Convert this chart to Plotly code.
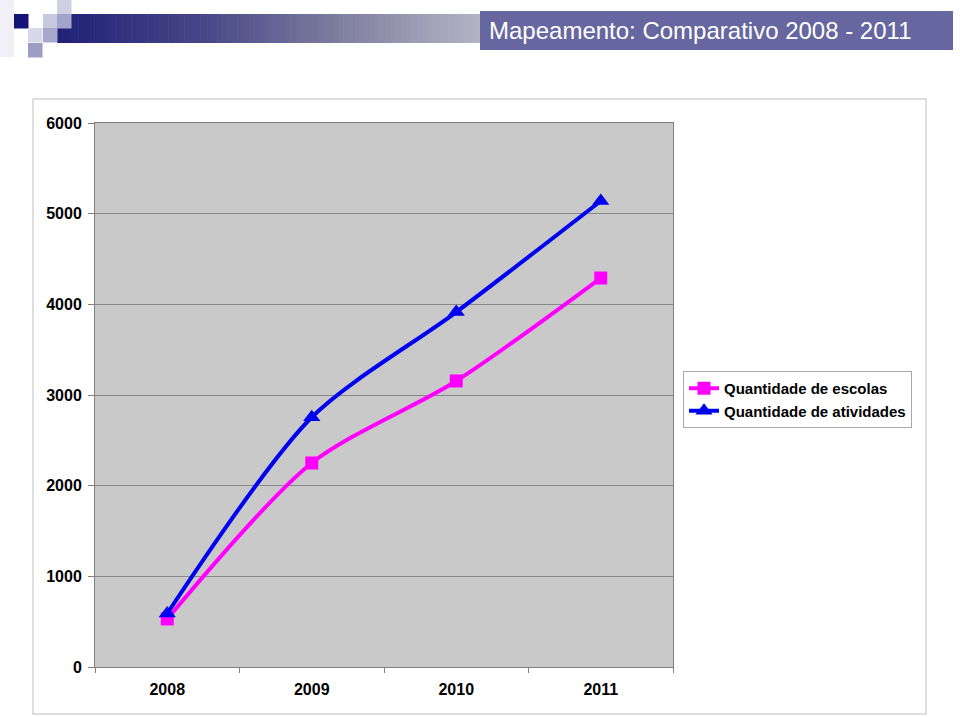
import plotly.graph_objects as go

years = ["2008", "2009", "2010", "2011"]
escolas = [530, 2250, 3155, 4290]
atividades = [590, 2755, 3915, 5140]
y_ticks = [0, 1000, 2000, 3000, 4000, 5000, 6000]

W, H = 960, 717
L, R, T, B = 95, 673, 123, 667  # plot area in pixels
PW, PH = R - L, B - T

def px(x):
    return (x - L) / PW

def py(y):
    return (B - y) / PH

FONT = "Arial, Liberation Sans, sans-serif"

fig = go.Figure()
fig.add_trace(go.Scatter(
    x=years, y=escolas, name="Quantidade de escolas", mode="lines+markers",
    line=dict(color="#FF00FF", width=4, shape="spline", smoothing=0.8),
    marker=dict(symbol="square", size=13, color="#FF00FF"),
))
fig.add_trace(go.Scatter(
    x=years, y=atividades, name="Quantidade de atividades", mode="lines+markers",
    line=dict(color="#0000F0", width=4, shape="spline", smoothing=0.8),
    marker=dict(symbol="triangle-up", size=15, color="#0000F0"),
))

shapes = []
# chart frame
shapes.append(dict(type="rect", xref="paper", yref="paper",
                   x0=px(33), x1=px(926), y0=py(714), y1=py(99),
                   line=dict(color="#D4D4D4", width=1.5), fillcolor="rgba(0,0,0,0)", layer="below"))

# header gradient bar
def lerp(c1, c2, t):
    return "#%02x%02x%02x" % tuple(int(round(a + (b - a) * t)) for a, b in zip(c1, c2))

stops = [(0.0, (0x20, 0x20, 0x78)), (0.35, (0x48, 0x48, 0x88)), (0.7, (0x84, 0x84, 0xA2)), (1.0, (0xB4, 0xB4, 0xC6))]
x0g, x1g = 57, 481
n = 80
for i in range(n):
    t = (i + 0.5) / n
    for j in range(len(stops) - 1):
        if stops[j][0] <= t <= stops[j + 1][0]:
            tt = (t - stops[j][0]) / (stops[j + 1][0] - stops[j][0])
            col = lerp(stops[j][1], stops[j + 1][1], tt)
            break
    xa = x0g + (x1g - x0g) * i / n
    xb = x0g + (x1g - x0g) * (i + 1) / n + 0.6
    shapes.append(dict(type="rect", xref="paper", yref="paper",
                       x0=px(xa), x1=px(xb), y0=py(43), y1=py(14),
                       line=dict(width=0), fillcolor=col))

# decorative squares
squares = [
    (14, 14, "#141478"),
    (43, 14, "#C8C8E0"),
    (57, 0, "#D0D0E4"),
    (57, 14, "#A4A4C8"),
    (28, 28, "#D8D8EA"),
    (43, 28, "#A8A8CC"),
    (28, 43, "#9C9CC4"),
]
for (sx, sy, c) in squares:
    shapes.append(dict(type="rect", xref="paper", yref="paper",
                       x0=px(sx), x1=px(sx + 14.5), y0=py(sy + 14.5), y1=py(sy),
                       line=dict(width=0), fillcolor=c))
# faint left corner
shapes.append(dict(type="rect", xref="paper", yref="paper",
                   x0=px(0), x1=px(14), y0=py(57), y1=py(0),
                   line=dict(width=0), fillcolor="#F0F0F6"))
# title box
shapes.append(dict(type="rect", xref="paper", yref="paper",
                   x0=px(480), x1=px(953), y0=py(50), y1=py(11),
                   line=dict(width=0), fillcolor="#6666A0"))

annotations = [dict(
    text="Mapeamento: Comparativo 2008 - 2011", xref="paper", yref="paper",
    x=px(487), y=py(31), xanchor="left", yanchor="middle", showarrow=False,
    font=dict(family=FONT, size=24, color="white"),
)]

fig.update_layout(
    width=W, height=H,
    margin=dict(l=L, r=W - R, t=T, b=H - B, pad=0),
    paper_bgcolor="white", plot_bgcolor="#C9C9C9",
    font=dict(family=FONT, size=16, color="black"),
    shapes=shapes, annotations=annotations,
    showlegend=True,
    legend=dict(x=px(683), y=py(371), xanchor="left", yanchor="top",
                bgcolor="white", bordercolor="#A8A8A8", borderwidth=1,
                font=dict(family=FONT, size=15, color="black", weight="bold"),
                tracegroupgap=0, itemwidth=30),
)
fig.update_xaxes(
    type="category", range=[-0.5, 3.5], showgrid=False,
    ticks="outside", tickson="boundaries", ticklen=5, tickcolor="#808080",
    showline=True, linecolor="#808080", linewidth=1, mirror=True,
    tickfont=dict(family=FONT, size=16, color="black", weight="bold"),
    ticklabelstandoff=8, fixedrange=True,
)
fig.update_yaxes(
    range=[0, 6000], tickvals=y_ticks, ticktext=[str(v) for v in y_ticks],
    showgrid=True, gridcolor="#888888", gridwidth=1,
    ticks="outside", ticklen=6, tickcolor="#808080",
    showline=True, linecolor="#808080", linewidth=1, mirror=True,
    tickfont=dict(family=FONT, size=16, color="black", weight="bold"),
    ticklabelstandoff=3,
    zeroline=False, fixedrange=True,
)
fig.write_html(
    "out.html",
    config={"displayModeBar": False},
    post_script="document.body.style.margin='0';document.body.style.overflow='hidden';",
)
